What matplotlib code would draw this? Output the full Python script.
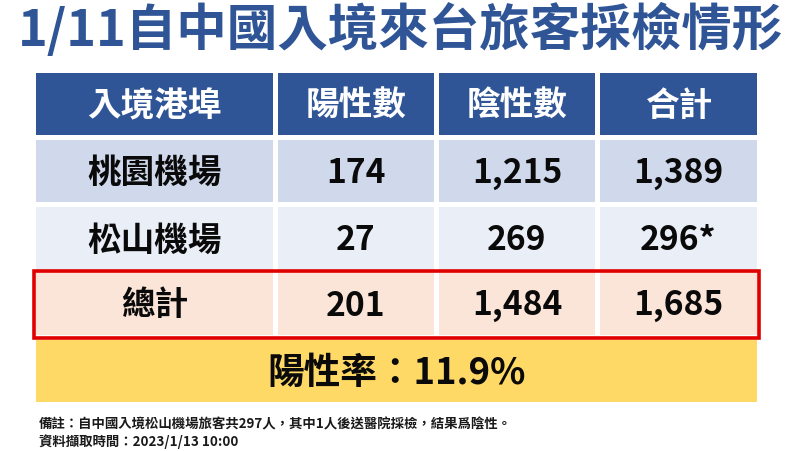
import matplotlib
matplotlib.use("Agg")
import matplotlib.pyplot as plt
from matplotlib.patches import Rectangle

FONT = ['Noto Sans CJK TC', 'DejaVu Sans']
plt.rcParams['font.family'] = FONT

title = "1/11自中國入境來台旅客採檢情形"
headers = ["入境港埠", "陽性數", "陰性數", "合計"]
ports = ["桃園機場", "松山機場", "總計"]
positive = ["174", "27", "201"]
negative = ["1,215", "269", "1,484"]
totals = ["1,389", "296*", "1,685"]
rate_label = "陽性率：11.9%"
notes = ["備註：自中國入境松山機場旅客共297人，其中1人後送醫院採檢，結果爲陰性。",
         "資料擷取時間：2023/1/13 10:00"]

col_edges = [(36, 273), (278, 434), (439, 595), (600, 757)]
row_edges = [(73, 135), (140, 202), (207, 270), (272, 335)]
row_colors = ["#2F5597", "#CFD9EB", "#E9EEF7", "#FBE5D8"]
BLUE = "#2F5597"
BLACK = "#0A0A0A"

fig = plt.figure(figsize=(8, 4.51), dpi=100, facecolor="white")
ax = fig.add_axes([0, 0, 1, 1])
ax.set_xlim(0, 800)
ax.set_ylim(451, 0)
ax.axis("off")

ax.text(401, 29.5, title, ha="center", va="center", fontsize=36.4, fontweight="bold", color=BLUE)

rows = [headers] + [list(r) for r in zip(ports, positive, negative, totals)]
for r, ((y0, y1), row) in enumerate(zip(row_edges, rows)):
    for (x0, x1), cell in zip(col_edges, row):
        ax.add_patch(Rectangle((x0, y0), x1 - x0, y1 - y0, fc=row_colors[r], ec="none"))
        ax.text((x0 + x1) / 2, (y0 + y1) / 2 + 2.5, cell, ha="center", va="center", fontsize=24.2,
                fontweight="bold", color="white" if r == 0 else BLACK)

ax.add_patch(Rectangle((36, 340), 721, 62, fc="#FFD966", ec="none"))
ax.text(397, 373.5, rate_label, ha="center", va="center", fontsize=26.4, fontweight="bold", color=BLACK)

ax.add_patch(Rectangle((34, 271), 725, 67, fc="none", ec="#E00000", lw=2.6))

ax.text(39, 424, notes[0], ha="left", va="center", fontsize=9.66, fontweight="bold", color="#1A1A1A")
ax.text(39, 442, notes[1], ha="left", va="center", fontsize=9.66, fontweight="bold", color="#1A1A1A")

fig.savefig("out.png", dpi=100)
